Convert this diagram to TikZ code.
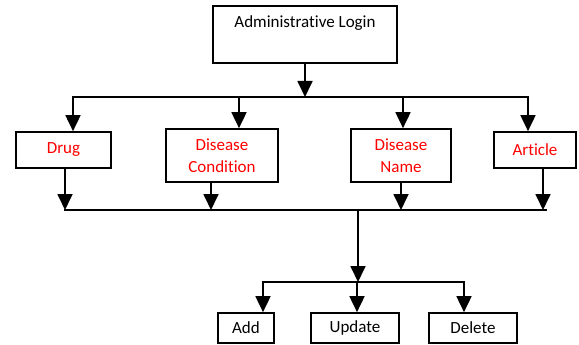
\documentclass[tikz,border=0pt]{standalone}
\usepackage{fontspec}
\setmainfont{Carlito}[RawFeature={-liga;-clig;-calt;-dlig}]
\usetikzlibrary{arrows.meta}

\tikzset{
	box/.style={draw, rectangle, line width=1.7pt, align=center, inner sep=0pt, font=\fontsize{17}{22}\selectfont},
	item/.style={box, text=red},
	link/.style={line width=1.8pt},
	bar/.style={link, line cap=rect},
	arr/.style={link, -{Triangle[width=15pt, length=16pt]}}
}

\begin{document}
\begin{tikzpicture}[x=1pt, y=-1pt]
	\useasboundingbox (0,0) rectangle (579,345);

	% Login
	\draw (305,5) node[box, anchor=north, minimum width=184pt, text height=12pt, text depth=25pt, inner ysep=10pt] (login) {Administrative Login};

	% Modules
	\draw (63.5,150) node[item, minimum width=95pt, minimum height=36pt] (drug) {Drug};
	\draw (222,155.5) node[item, minimum width=112pt, minimum height=53pt] (cond) {Disease\\Condition};
	\draw (401,155.5) node[item, minimum width=100pt, minimum height=53pt] (name) {Disease\\Name};
	\draw (535,150) node[item, minimum width=82pt, minimum height=36pt] (article) {Article};

	% Actions
	\draw (246,328) node[box, minimum width=56pt, minimum height=30pt] (add) {Add};
	\draw (355,328) node[box, minimum width=88pt, minimum height=30pt] (update) {Update};
	\draw (473,328) node[box, minimum width=88pt, minimum height=30pt] (delete) {Delete};

	\coordinate (top) at (305,97);
	\coordinate (merge) at (358,210);
	\coordinate (fork) at (358,282);

	% login -> modules
	\draw[arr] (login.south) -- (top);
	\draw[bar] ([xshift=9.5pt]drug.north |- top) -- ([xshift=-7pt]article.north |- top);
	\foreach \n/\dx in {drug/9.5, cond/17, name/2, article/-7}
		\draw[arr] ([xshift=\dx pt]\n.north |- top) -- ([xshift=\dx pt]\n.north);

	% modules -> actions
	\foreach \n/\dx in {drug/1.5, cond/-11, name/0, article/8}
		\draw[arr] ([xshift=\dx pt]\n.south) -- ([xshift=\dx pt]\n.south |- merge);
	\draw[bar] ([xshift=1.5pt]drug.south |- merge) -- ([xshift=11pt]article.south |- merge);
	\draw[arr] (merge) -- (fork);
	\draw[bar] ([xshift=17pt]add.north |- fork) -- ([xshift=-9pt]delete.north |- fork);
	\foreach \n/\dx in {add/17, update/2, delete/-9}
		\draw[arr] ([xshift=\dx pt]\n.north |- fork) -- ([xshift=\dx pt]\n.north);

\end{tikzpicture}
\end{document}
